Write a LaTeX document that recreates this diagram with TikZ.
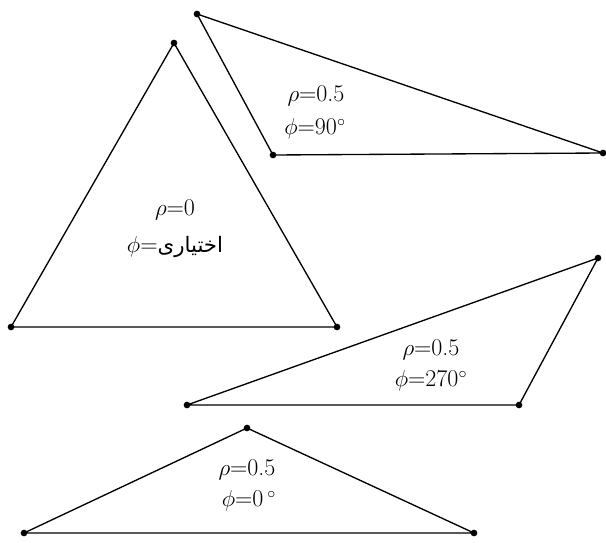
\documentclass[tikz,border=0pt]{standalone}
\usepackage{fontspec}
\newfontfamily\arabicfont[Script=Arabic]{DejaVu Sans}
\TeXXeTstate=1

\begin{document}
\begin{tikzpicture}[x=0.75pt,y=-0.75pt,
  vtx/.style={circle,fill,inner sep=0pt,minimum size=5pt},
  side/.style={line width=1pt,line join=round},
  lab/.style={font=\fontsize{18}{21}\selectfont,inner sep=1pt}]
\useasboundingbox (0,0) rectangle (606,542);
% triangle with rho=0
\node[vtx] (a1) at (174,43) {};
\node[vtx] (a2) at (11,327) {};
\node[vtx] (a3) at (337,327) {};
\draw[side] (a1.center) -- (a2.center) -- (a3.center) -- cycle;
\node[lab] (ra) at (175,210) {$\rho$=0};
\node[lab] (fa) at (175,247) {$\phi$={\arabicfont\fontsize{16}{20}\selectfont\beginR اختیاری\endR}};
% phi=90
\node[vtx] (b1) at (197,14) {};
\node[vtx] (b2) at (273,155) {};
\node[vtx] (b3) at (603,153) {};
\draw[side] (b1.center) -- (b2.center) -- (b3.center) -- cycle;
\node[lab] (rb) at (316,96) {$\rho$=0.5};
\node[lab] (fb) at (315,129) {$\phi$=90$^{\circ}$};
% phi=270
\node[vtx] (c1) at (598,258) {};
\node[vtx] (c2) at (519,405) {};
\node[vtx] (c3) at (187,405) {};
\draw[side] (c1.center) -- (c2.center) -- (c3.center) -- cycle;
\node[lab] (rc) at (431,350) {$\rho$=0.5};
\node[lab] (fc) at (431,381) {$\phi$=270$^{\circ}$};
% phi=0
\node[vtx] (d1) at (247,428) {};
\node[vtx] (d2) at (24,533) {};
\node[vtx] (d3) at (474,533) {};
\draw[side] (d1.center) -- (d2.center) -- (d3.center) -- cycle;
\node[lab] (rd) at (247,470) {$\rho$=0.5};
\node[lab] (fd) at (249,501) {$\phi$=0\,$^{\circ}$};
\end{tikzpicture}
\end{document}
